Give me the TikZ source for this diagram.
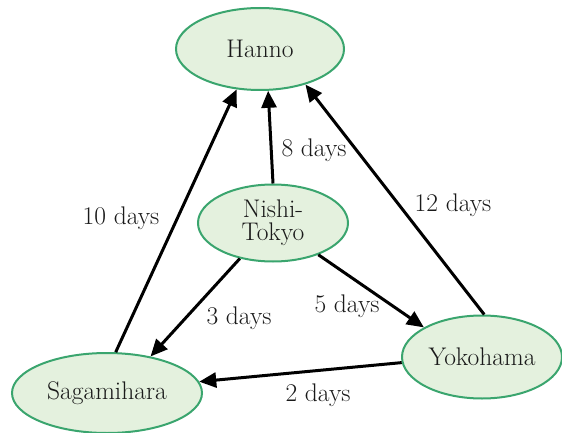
\documentclass[tikz,border=0pt]{standalone}
\usepackage{fontspec}
\usetikzlibrary{shapes.geometric,arrows.meta}
\definecolor{cityfill}{HTML}{E4F1DE}
\definecolor{cityline}{HTML}{3AA56E}
\definecolor{txt}{HTML}{1A1A1A}
\newcommand{\bigtxt}{\fontsize{25.5}{27}\selectfont}
\tikzset{
  city/.style={ellipse, draw=cityline, line width=2pt, fill=cityfill, inner sep=0pt,
    text=txt, font=\bigtxt, align=center},
  link/.style={line width=3pt, -{Triangle[length=17pt,width=15pt]}},
  lbl/.style={text=txt, font=\bigtxt, inner sep=0pt}
}
\begin{document}
\begin{tikzpicture}[x=1pt,y=-1pt]
\useasboundingbox (0,0) rectangle (562,433);
\node[city, minimum width=168pt, minimum height=82pt] (han) at (260,49) {Hanno};
\node[city, minimum width=150pt, minimum height=77pt] (nt) at (273,223) {Nishi-\\[-4pt]Tokyo};
\node[city, minimum width=190pt, minimum height=80pt] (sag) at (107,393) {Sagamihara};
\node[city, minimum width=160pt, minimum height=83pt] (yok) at (482,357) {Yokohama};

\draw[link] (sag.78) -- (han.240);
\draw[link] (nt.90) -- (han.281);
\draw[link] (yok.87) -- (han.322);
\draw[link] (nt.227) -- (sag.40);
\draw[link] (nt.325) -- (yok.153);
\draw[link] (yok.184) -- (sag.7);

\node[lbl] (l10) at (121,218) {10 days};
\node[lbl] (l8) at (314,150) {8 days};
\node[lbl] (l12) at (453,205) {12 days};
\node[lbl] (l3) at (239,318) {3 days};
\node[lbl] (l5) at (347,306) {5 days};
\node[lbl] (l2) at (318,395) {2 days};
\end{tikzpicture}
\end{document}
